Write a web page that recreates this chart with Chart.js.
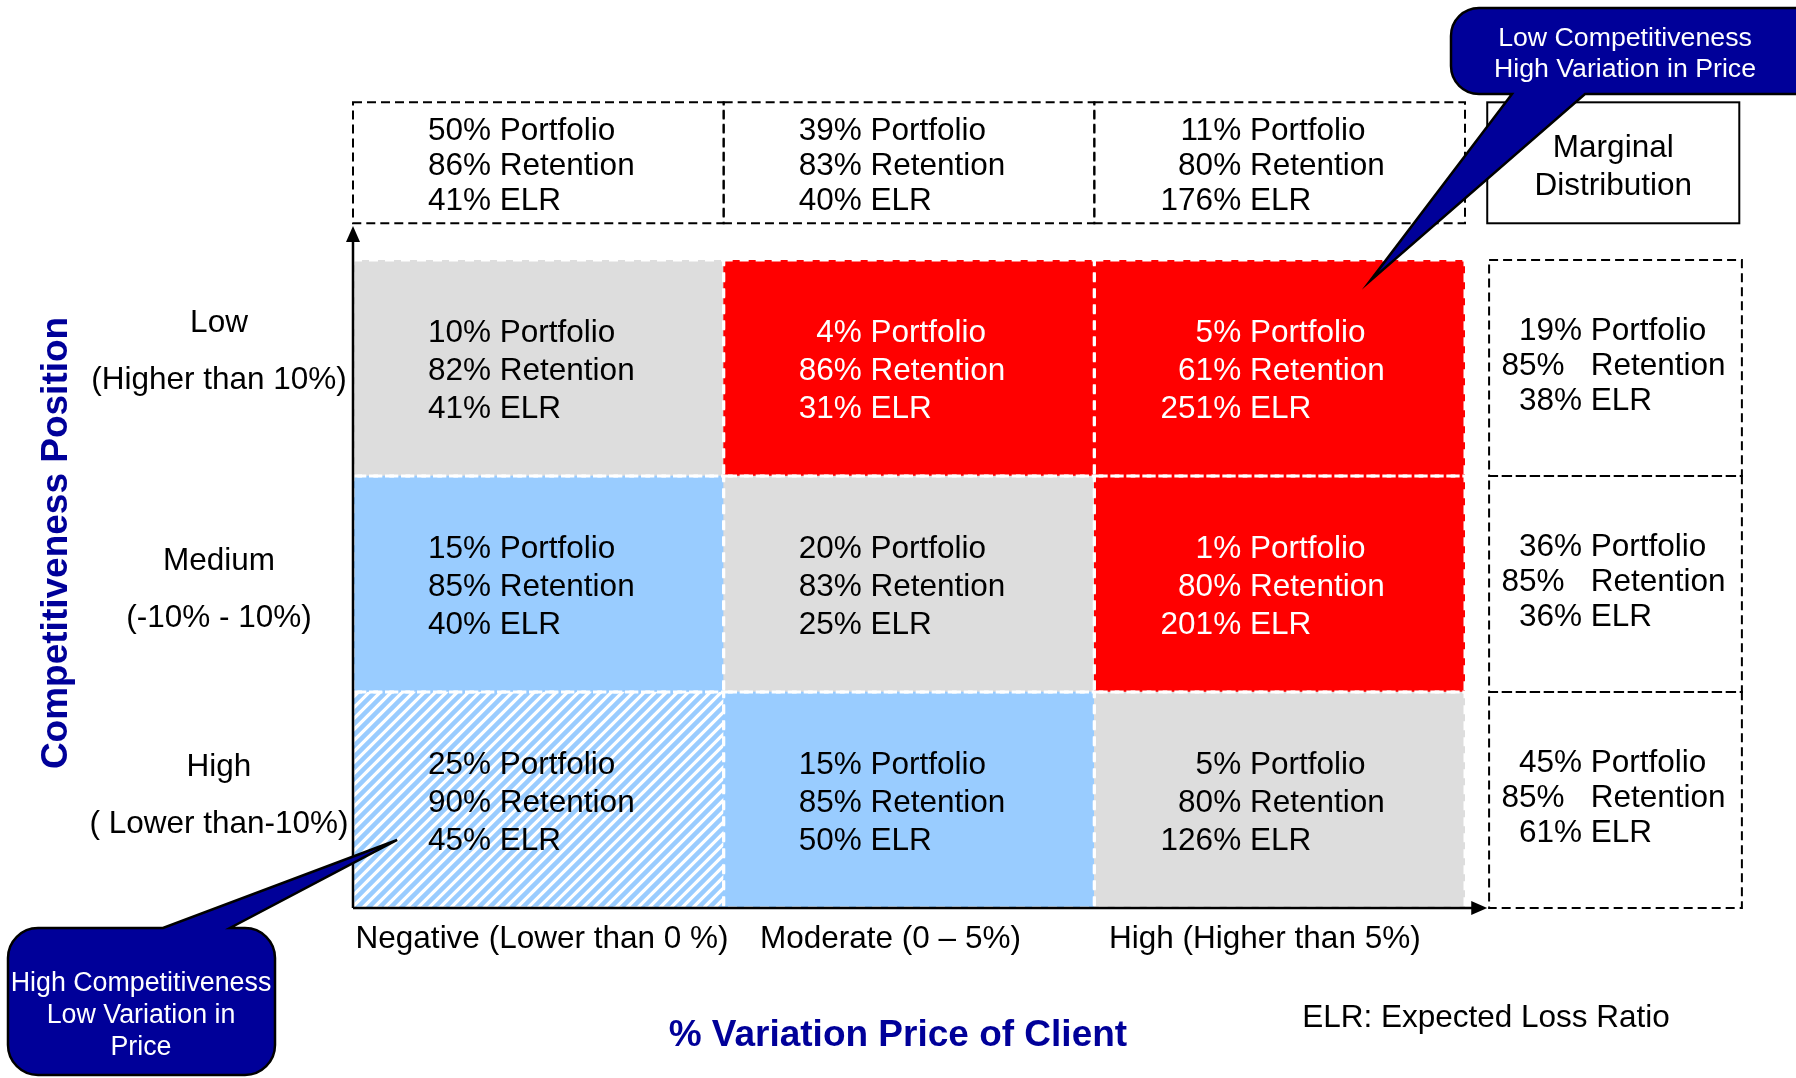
<!DOCTYPE html>
<html>
<head>
<meta charset="utf-8">
<script src="https://cdn.jsdelivr.net/npm/chart.js@4.4.0/dist/chart.umd.min.js"></script>
<style>
  html, body { margin: 0; padding: 0; background: #fff; }
</style>
</head>
<body>
<canvas id="matrix" width="1796" height="1078"></canvas>
<script>
// price variation of client (x) and competitiveness rows (y, bottom -> top)
const priceBands = ['Negative (Lower than 0 %)', 'Moderate (0 – 5%)', 'High (Higher than 5%)'];
const compLevels = ['High', 'Medium', 'Low'];
const compRanges = ['( Lower than-10%)', '(-10% - 10%)', '(Higher than 10%)'];

// cell values, one array per row, one entry per price band
const portfolioHigh = [25, 15, 5];
const portfolioMedium = [15, 20, 1];
const portfolioLow = [10, 4, 5];
const retentionHigh = [90, 85, 80];
const retentionMedium = [85, 83, 80];
const retentionLow = [82, 86, 61];
const elrHigh = [45, 50, 126];
const elrMedium = [40, 25, 201];
const elrLow = [41, 31, 251];

// marginals: per price band (top boxes) and per row (right boxes, bottom -> top)
const bandPortfolio = [50, 39, 11];
const bandRetention = [86, 83, 80];
const bandElr = [41, 40, 176];
const levelPortfolio = [45, 36, 19];
const levelRetention = [85, 85, 85];
const levelElr = [61, 36, 38];

// shading of each cell
const shadeHigh = ['hatch', 'blue', 'gray'];
const shadeMedium = ['blue', 'gray', 'red'];
const shadeLow = ['gray', 'red', 'red'];

const statNames = ['Portfolio', 'Retention', 'ELR'];
const calloutTop = ['Low Competitiveness', 'High Variation in Price'];
const calloutBottom = ['High Competitiveness', 'Low Variation in', 'Price'];
const xTitle = '% Variation Price of Client';
const yTitle = 'Competitiveness Position';
const note = 'ELR: Expected Loss Ratio';

const FONT = "'Liberation Sans', Arial, sans-serif";
const NAVY = '#000099';
const fills = { gray: '#dddddd', blue: '#99ccff', red: '#ff0000' };

// small label nudges (px) to sit like the original slide
const rowLabelNudge = [4, 14, -8];
const bandLabelNudge = [0.01, -0.05, -0.04];

const canvas = document.getElementById('matrix');
const ctx0 = canvas.getContext('2d');

// white background with light blue "/" stripes
function hatchPattern() {
  const n = 11;
  const c = document.createElement('canvas');
  c.width = n; c.height = n;
  const g = c.getContext('2d');
  g.fillStyle = '#ffffff';
  g.fillRect(0, 0, n, n);
  g.strokeStyle = '#99ccff';
  g.lineWidth = 4.5;
  g.beginPath();
  g.moveTo(0, n); g.lineTo(n, 0);
  g.moveTo(-2, 2); g.lineTo(2, -2);
  g.moveTo(n - 2, n + 2); g.lineTo(n + 2, n - 2);
  g.stroke();
  return ctx0.createPattern(c, 'repeat');
}
const hatch = hatchPattern();

const rows = [
  { p: portfolioHigh, r: retentionHigh, e: elrHigh, shade: shadeHigh },
  { p: portfolioMedium, r: retentionMedium, e: elrMedium, shade: shadeMedium },
  { p: portfolioLow, r: retentionLow, e: elrLow, shade: shadeLow }
];

const datasets = rows.map((row, i) => ({
  label: compLevels[i],
  data: priceBands.map(() => 1),
  backgroundColor: row.shade.map(s => s === 'hatch' ? hatch : fills[s]),
  borderWidth: 0,
  barPercentage: 1,
  categoryPercentage: 1
}));

// three stat lines, numbers right aligned on a common column
function statBlock(ctx, cx, cy, vals, color, gap) {
  ctx.font = '31.5px ' + FONT;
  ctx.fillStyle = color;
  ctx.textBaseline = 'middle';
  const numW = Math.max(...vals.map(v => ctx.measureText(v + '%').width));
  const restW = Math.max(...statNames.map(n => ctx.measureText(' ' + n).width));
  const left = cx - (numW + restW) / 2 - 7;
  vals.forEach((v, k) => {
    const y = cy + (k - 1) * gap;
    ctx.textAlign = 'right';
    ctx.fillText(v + '%', left + numW, y);
    ctx.textAlign = 'left';
    ctx.fillText(' ' + statNames[k], left + numW, y);
  });
}

function callout(ctx, box, tail, lines, textY, fontPx) {
  const { l, t, r, b, rad } = box;
  ctx.beginPath();
  ctx.moveTo(l + rad, t);
  if (tail.side === 'top') {
    ctx.lineTo(tail.a, t);
    ctx.lineTo(tail.tx, tail.ty);
    ctx.lineTo(tail.b, t);
  }
  ctx.lineTo(r - rad, t);
  ctx.arcTo(r, t, r, t + rad, rad);
  ctx.lineTo(r, b - rad);
  ctx.arcTo(r, b, r - rad, b, rad);
  if (tail.side === 'bottom') {
    ctx.lineTo(tail.b, b);
    ctx.lineTo(tail.tx, tail.ty);
    ctx.lineTo(tail.a, b);
  }
  ctx.lineTo(l + rad, b);
  ctx.arcTo(l, b, l, b - rad, rad);
  ctx.lineTo(l, t + rad);
  ctx.arcTo(l, t, l + rad, t, rad);
  ctx.closePath();
  ctx.fillStyle = NAVY;
  ctx.fill();
  ctx.setLineDash([]);
  ctx.lineWidth = 2.5;
  ctx.strokeStyle = '#000';
  ctx.stroke();

  ctx.fillStyle = '#fff';
  ctx.font = fontPx + 'px ' + FONT;
  ctx.textAlign = 'center';
  ctx.textBaseline = 'middle';
  lines.forEach((s, k) => ctx.fillText(s, textY.x, textY.y[k]));
}

const matrixPlugin = {
  id: 'matrix',
  afterDatasetsDraw(chart) {
    const ctx = chart.ctx;
    ctx.save();
    chart.data.datasets.forEach((ds, ri) => {
      chart.getDatasetMeta(ri).data.forEach((bar, ci) => {
        const { x, y, base, width } = bar.getProps(['x', 'y', 'base', 'width'], true);
        // white dashed cell border
        ctx.setLineDash([9, 7]);
        ctx.lineWidth = 3;
        ctx.strokeStyle = '#ffffff';
        ctx.strokeRect(x - width / 2, y, width, base - y);
        const row = rows[ri];
        const color = row.shade[ci] === 'red' ? '#ffffff' : '#000000';
        statBlock(ctx, x, (y + base) / 2 + 3, [row.p[ci], row.r[ci], row.e[ci]], color, 38);
      });
    });
    ctx.restore();
  },
  afterDraw(chart) {
    const ctx = chart.ctx;
    const xs = chart.scales.x, ys = chart.scales.y;
    const top = ys.getPixelForValue(3.17), topHi = ys.getPixelForValue(3.73);
    const mL = xs.getPixelForValue(2.565), mR = xs.getPixelForValue(3.247);
    ctx.save();

    // top marginal boxes
    ctx.strokeStyle = '#000';
    ctx.lineWidth = 2;
    priceBands.forEach((b, i) => {
      const l = xs.getPixelForValue(i - 0.5), r = xs.getPixelForValue(i + 0.5);
      ctx.setLineDash([9, 5]);
      ctx.strokeRect(l, topHi, r - l, top - topHi);
      statBlock(ctx, (l + r) / 2, (top + topHi) / 2 + 4, [bandPortfolio[i], bandRetention[i], bandElr[i]], '#000', 35);
    });

    // "Marginal Distribution" header box
    const hL = xs.getPixelForValue(2.56), hR = xs.getPixelForValue(3.24);
    ctx.setLineDash([]);
    ctx.lineWidth = 2;
    ctx.strokeRect(hL, topHi, hR - hL, top - topHi);
    ctx.fillStyle = '#000';
    ctx.font = '31.5px ' + FONT;
    ctx.textAlign = 'center';
    ctx.textBaseline = 'middle';
    ctx.fillText('Marginal', (hL + hR) / 2, (top + topHi) / 2 - 14);
    ctx.fillText('Distribution', (hL + hR) / 2, (top + topHi) / 2 + 24);

    // right marginal boxes
    compLevels.forEach((lv, i) => {
      const yb = ys.getPixelForValue(i), yt = ys.getPixelForValue(i + 1);
      ctx.setLineDash([9, 5]);
      ctx.lineWidth = 2;
      ctx.strokeStyle = '#000';
      ctx.strokeRect(mL, yt, mR - mL, yb - yt);
      const lines = ['  ' + levelPortfolio[i] + '% Portfolio',
                     levelRetention[i] + '%   Retention',
                     '  ' + levelElr[i] + '% ELR'];
      ctx.font = '31.5px ' + FONT;
      ctx.fillStyle = '#000';
      ctx.textAlign = 'left';
      ctx.textBaseline = 'middle';
      const w = Math.max(...lines.map(s => ctx.measureText(s).width));
      const left = (mL + mR) / 2 - w / 2 - 2;
      const cy = (yb + yt) / 2 - 2;
      lines.forEach((s, k) => ctx.fillText(s, left, cy + (k - 1) * 35));
    });

    // axes with arrow heads
    const x0 = xs.getPixelForValue(-0.5), y0 = ys.getPixelForValue(0);
    const xEnd = xs.getPixelForValue(2.56), yEnd = ys.getPixelForValue(3.157);
    ctx.setLineDash([]);
    ctx.strokeStyle = '#000';
    ctx.fillStyle = '#000';
    ctx.lineWidth = 2.5;
    ctx.beginPath();
    ctx.moveTo(x0, y0); ctx.lineTo(xEnd - 12, y0);
    ctx.moveTo(x0, y0); ctx.lineTo(x0, yEnd + 12);
    ctx.stroke();
    ctx.beginPath();
    ctx.moveTo(xEnd, y0); ctx.lineTo(xEnd - 16, y0 - 7); ctx.lineTo(xEnd - 16, y0 + 7); ctx.closePath();
    ctx.moveTo(x0, yEnd); ctx.lineTo(x0 - 7, yEnd + 16); ctx.lineTo(x0 + 7, yEnd + 16); ctx.closePath();
    ctx.fill();

    // x category labels
    ctx.font = '31.5px ' + FONT;
    ctx.textAlign = 'center';
    ctx.textBaseline = 'middle';
    priceBands.forEach((b, i) => ctx.fillText(b, xs.getPixelForValue(i + bandLabelNudge[i]), y0 + 31));

    // y row labels
    compLevels.forEach((lv, i) => {
      const cy = ys.getPixelForValue(i + 0.5) + rowLabelNudge[i];
      ctx.fillText(lv, 219, cy - 37);
      ctx.fillText(compRanges[i], 219, cy + 20);
    });

    // titles
    ctx.fillStyle = NAVY;
    ctx.font = 'bold 37px ' + FONT;
    ctx.fillText(xTitle, xs.getPixelForValue(0.97), 1036);
    ctx.save();
    ctx.translate(57, ys.getPixelForValue(1.69));
    ctx.rotate(-Math.PI / 2);
    ctx.fillText(yTitle, 0, 0);
    ctx.restore();

    ctx.fillStyle = '#000';
    ctx.font = '31.5px ' + FONT;
    ctx.fillText(note, 1486, 1018);

    // callouts
    callout(ctx, { l: 1451, t: 8, r: 1840, b: 94, rad: 28 },
      { side: 'bottom', a: 1512, b: 1585, tx: xs.getPixelForValue(2.244), ty: ys.getPixelForValue(2.903) },
      calloutTop, { x: 1625, y: [39, 70] }, 26.7);
    callout(ctx, { l: 8, t: 928, r: 275, b: 1075, rad: 30 },
      { side: 'top', a: 163, b: 230, tx: xs.getPixelForValue(-0.381), ty: ys.getPixelForValue(0.315) },
      calloutBottom, { x: 141, y: [984, 1016, 1048] }, 26.8);

    ctx.restore();
  }
};

new Chart(canvas, {
  type: 'bar',
  data: { labels: priceBands, datasets: datasets },
  options: {
    responsive: false,
    animation: false,
    layout: { padding: { left: 353, right: 331, top: 260, bottom: 170 } },
    plugins: { legend: { display: false }, tooltip: { enabled: false } },
    scales: {
      x: { display: false, stacked: true, offset: true },
      y: { display: false, stacked: true, min: 0, max: 3 }
    }
  },
  plugins: [matrixPlugin]
});
</script>
</body>
</html>
